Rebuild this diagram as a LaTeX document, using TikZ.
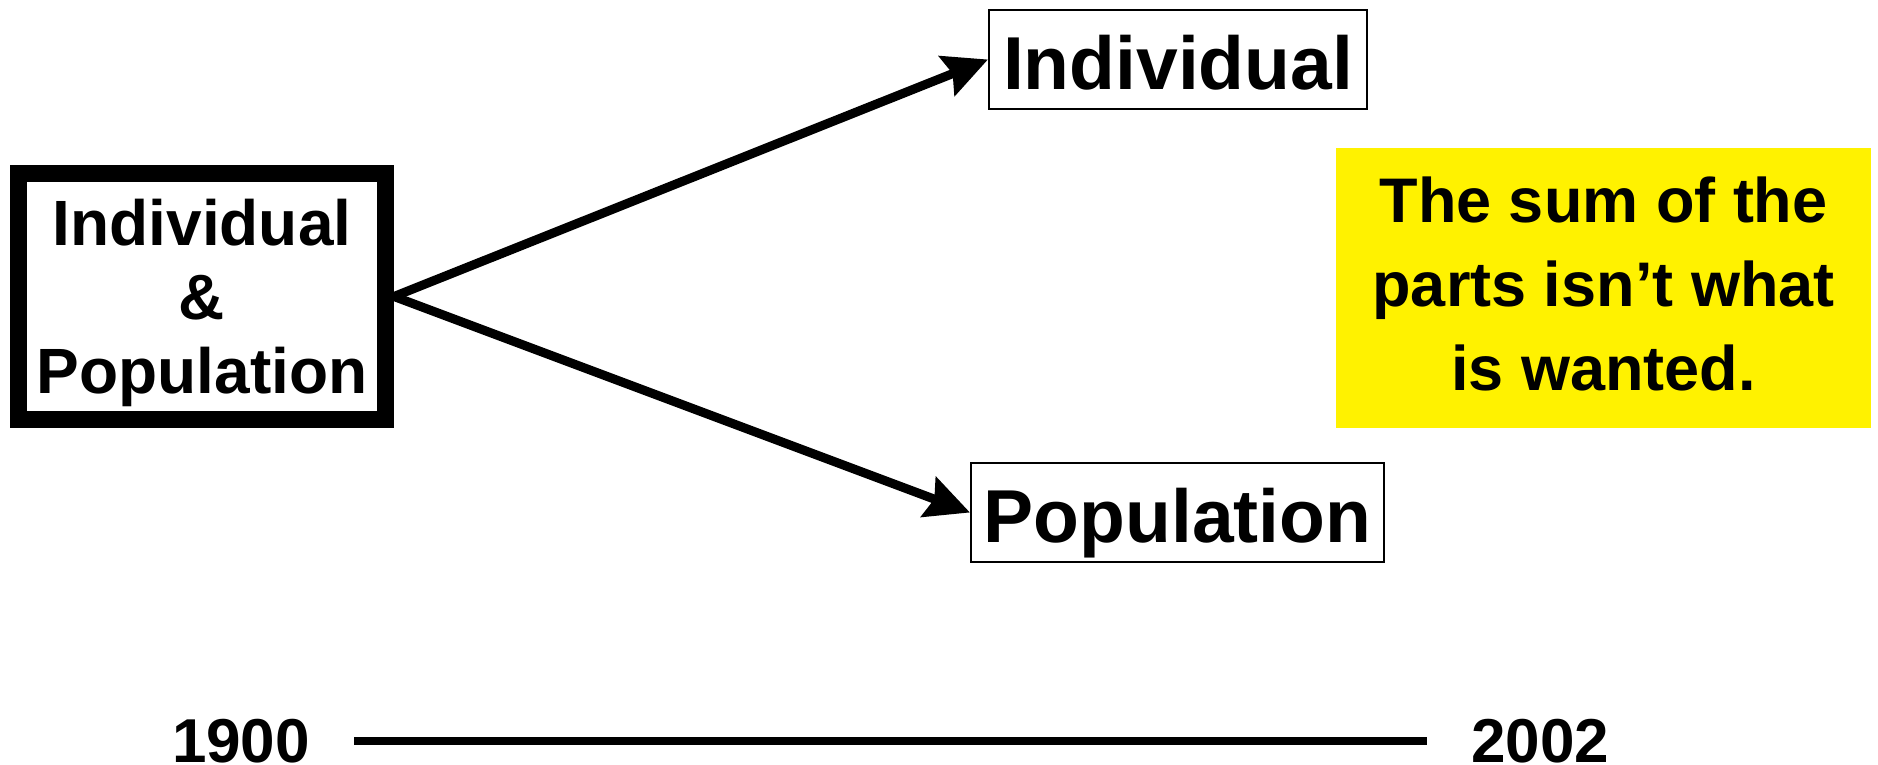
\documentclass[tikz,border=0pt]{standalone}
\usepackage{fontspec}
\setmainfont{Liberation Sans}
\usepackage{xcolor}
\usepackage{tikz}
\usetikzlibrary{arrows.meta}

\begin{document}
\begin{tikzpicture}[x=0.5pt, y=-0.5pt,
main/.style = {draw, line width=8.5pt, minimum width=183.5pt, minimum height=123pt, inner sep=0pt, align=center, text depth=0pt, font=\fontsize{32}{37}\selectfont\bfseries},
side/.style = {draw, line width=1pt, minimum height=49.5pt, inner sep=0pt, text height=30pt, text depth=0pt, font=\fontsize{37.5}{45}\selectfont\bfseries},
note/.style = {fill=yellow, minimum width=267.5pt, minimum height=140pt, inner sep=0pt, align=center, text depth=4.5pt, font=\fontsize{31.5}{42}\selectfont\bfseries},
year/.style = {anchor=base, inner xsep=22pt, inner ysep=0pt, font=\fontsize{31}{37}\selectfont\bfseries},
arr/.style = {line width=4.5pt, -{Stealth[length=22pt, width=21pt, inset=3pt]}}]
\useasboundingbox (0,0) rectangle (1878,765);

\node[main] (ip) at (202,296.5) {Individual\\\&\\Population};
\node[side, minimum width=189pt] (ind) at (1178,59.5) {Individual};
\node[side, minimum width=206.5pt] (pop) at (1177.5,512.5) {Population};
\node[note] (sum) at (1603.5,288) {The sum of the\\parts isn’t what\\is wanted.};

\node[year] (y1900) at (241,762) {1900};
\node[year] (y2002) at (1540,762) {2002};

\path[arr]
(ip.east) edge (ind.west)
(ip.east) edge (pop.west)
;
\draw[line width=4pt] (y1900) -- (y2002);
\end{tikzpicture}
\end{document}
